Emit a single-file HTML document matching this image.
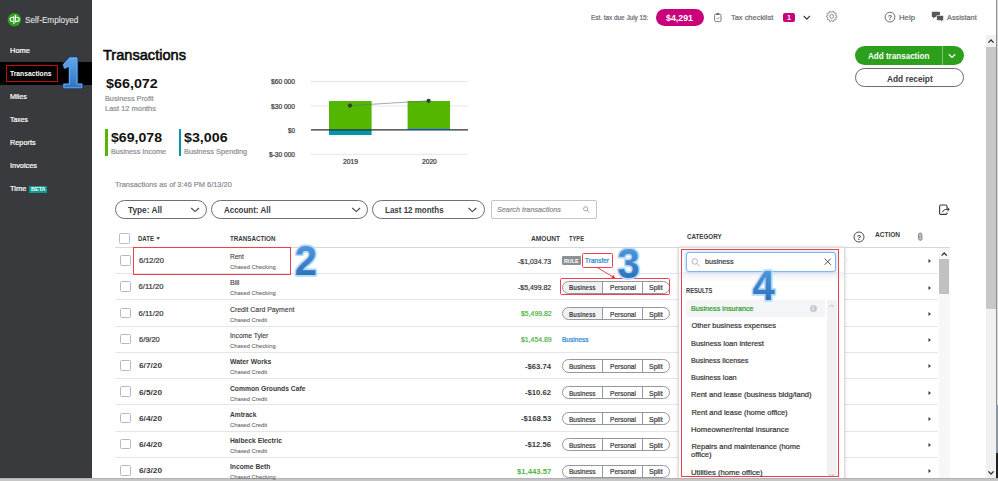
<!DOCTYPE html>
<html><head><meta charset="utf-8"><title>Transactions</title>
<style>
html,body{margin:0;padding:0;}
body{width:998px;height:481px;overflow:hidden;position:relative;background:#fff;font-family:"Liberation Sans",sans-serif;}
.t{position:absolute;white-space:nowrap;line-height:1;transform-origin:0 50%;}
.a{position:absolute;box-sizing:border-box;}
</style></head><body>
<div class="a" style="left:0px;top:0px;width:92px;height:481px;background:#393a3d;"></div>
<div class="a" style="left:0px;top:61.7px;width:92px;height:23px;background:#000;"></div>
<div class="a" style="left:105.2px;top:129.2px;width:2.4px;height:26.8px;background:#53b700;"></div>
<div class="a" style="left:178.6px;top:129.2px;width:2.4px;height:26.8px;background:#0097a9;"></div>
<div class="a" style="left:29.2px;top:186px;width:18.2px;height:6.6px;background:#0d9a8f;"></div>
<div class="a" style="left:655.6px;top:8.5px;width:48.5px;height:17px;background:#c9007a;border-radius:9px;"></div>
<div class="a" style="left:782.6px;top:13px;width:12.4px;height:8.8px;background:#c9007a;border-radius:2px;"></div>
<div class="a" style="left:855.2px;top:46.2px;width:109px;height:19px;background:#2ca01c;border-radius:9.5px;"></div>
<div class="a" style="left:942.2px;top:46.2px;width:0.8px;height:19px;background:#7cc872;"></div>
<div class="a" style="left:855.2px;top:67.9px;width:109px;height:19px;background:#fff;border:1px solid #6b6c72;border-radius:9.5px;"></div>
<div class="a" style="left:115px;top:199.6px;width:92.2px;height:19.2px;border:1.2px solid #6e7076;border-radius:9.5px;"></div>
<div class="a" style="left:210.8px;top:199.6px;width:157.4px;height:19.2px;border:1.2px solid #6e7076;border-radius:9.5px;"></div>
<div class="a" style="left:371.6px;top:199.6px;width:113px;height:19.2px;border:1.2px solid #6e7076;border-radius:9.5px;"></div>
<div class="a" style="left:491.4px;top:199.6px;width:106px;height:19px;border:1px solid #c2c5ca;border-radius:2px;"></div>
<div class="a" style="left:119.2px;top:233.2px;width:10.8px;height:10.8px;border:1px solid #babec5;border-radius:1.5px;"></div>
<div class="a" style="left:115px;top:246.6px;width:835px;height:1px;background:#d4d7dc;"></div>
<div class="a" style="left:120.2px;top:255.1px;width:10.6px;height:10.6px;border:1px solid #b4b8bf;border-radius:1.5px;"></div>
<div class="a" style="left:561.8px;top:256.4px;width:18.8px;height:8.8px;background:#8d9096;border-radius:1.2px;"></div>
<svg class="a" style="left:927.6px;top:258.2px" width="4" height="6" viewBox="0 0 4 6"><path d="M0.5 0.9 L3 3 L0.5 5.1z" fill="#393a3d"/></svg>
<div class="a" style="left:115px;top:273.0px;width:823px;height:1px;background:#e3e5e8;"></div>
<div class="a" style="left:120.2px;top:281.4px;width:10.6px;height:10.6px;border:1px solid #b4b8bf;border-radius:1.5px;"></div>
<div class="a" style="left:562px;top:280.7px;width:107.8px;height:13.2px;border:1px solid #94979d;border-radius:6.6px;background:linear-gradient(90deg,#f0f1f4 0,#f0f1f4 40px,#fff 40px);"></div>
<div class="a" style="left:602px;top:280.7px;width:0.9px;height:13.2px;background:#94979d;"></div>
<div class="a" style="left:642.2px;top:280.7px;width:0.9px;height:13.2px;background:#94979d;"></div>
<svg class="a" style="left:927.6px;top:284.5px" width="4" height="6" viewBox="0 0 4 6"><path d="M0.5 0.9 L3 3 L0.5 5.1z" fill="#393a3d"/></svg>
<div class="a" style="left:115px;top:299.2px;width:823px;height:1px;background:#e3e5e8;"></div>
<div class="a" style="left:120.2px;top:307.6px;width:10.6px;height:10.6px;border:1px solid #b4b8bf;border-radius:1.5px;"></div>
<div class="a" style="left:562px;top:306.9px;width:107.8px;height:13.2px;border:1px solid #94979d;border-radius:6.6px;background:linear-gradient(90deg,#f0f1f4 0,#f0f1f4 40px,#fff 40px);"></div>
<div class="a" style="left:602px;top:306.9px;width:0.9px;height:13.2px;background:#94979d;"></div>
<div class="a" style="left:642.2px;top:306.9px;width:0.9px;height:13.2px;background:#94979d;"></div>
<svg class="a" style="left:927.6px;top:310.7px" width="4" height="6" viewBox="0 0 4 6"><path d="M0.5 0.9 L3 3 L0.5 5.1z" fill="#393a3d"/></svg>
<div class="a" style="left:115px;top:325.5px;width:823px;height:1px;background:#e3e5e8;"></div>
<div class="a" style="left:120.2px;top:333.9px;width:10.6px;height:10.6px;border:1px solid #b4b8bf;border-radius:1.5px;"></div>
<svg class="a" style="left:927.6px;top:337.0px" width="4" height="6" viewBox="0 0 4 6"><path d="M0.5 0.9 L3 3 L0.5 5.1z" fill="#393a3d"/></svg>
<div class="a" style="left:115px;top:351.7px;width:823px;height:1px;background:#e3e5e8;"></div>
<div class="a" style="left:120.2px;top:360.1px;width:10.6px;height:10.6px;border:1px solid #b4b8bf;border-radius:1.5px;"></div>
<div class="a" style="left:562px;top:359.4px;width:107.8px;height:13.2px;border:1px solid #94979d;border-radius:6.6px;background:#fff;"></div>
<div class="a" style="left:602px;top:359.4px;width:0.9px;height:13.2px;background:#94979d;"></div>
<div class="a" style="left:642.2px;top:359.4px;width:0.9px;height:13.2px;background:#94979d;"></div>
<svg class="a" style="left:927.6px;top:363.2px" width="4" height="6" viewBox="0 0 4 6"><path d="M0.5 0.9 L3 3 L0.5 5.1z" fill="#393a3d"/></svg>
<div class="a" style="left:115px;top:378.0px;width:823px;height:1px;background:#e3e5e8;"></div>
<div class="a" style="left:120.2px;top:386.4px;width:10.6px;height:10.6px;border:1px solid #b4b8bf;border-radius:1.5px;"></div>
<div class="a" style="left:562px;top:385.7px;width:107.8px;height:13.2px;border:1px solid #94979d;border-radius:6.6px;background:#fff;"></div>
<div class="a" style="left:602px;top:385.7px;width:0.9px;height:13.2px;background:#94979d;"></div>
<div class="a" style="left:642.2px;top:385.7px;width:0.9px;height:13.2px;background:#94979d;"></div>
<svg class="a" style="left:927.6px;top:389.5px" width="4" height="6" viewBox="0 0 4 6"><path d="M0.5 0.9 L3 3 L0.5 5.1z" fill="#393a3d"/></svg>
<div class="a" style="left:115px;top:404.3px;width:823px;height:1px;background:#e3e5e8;"></div>
<div class="a" style="left:120.2px;top:412.7px;width:10.6px;height:10.6px;border:1px solid #b4b8bf;border-radius:1.5px;"></div>
<div class="a" style="left:562px;top:412.0px;width:107.8px;height:13.2px;border:1px solid #94979d;border-radius:6.6px;background:#fff;"></div>
<div class="a" style="left:602px;top:412.0px;width:0.9px;height:13.2px;background:#94979d;"></div>
<div class="a" style="left:642.2px;top:412.0px;width:0.9px;height:13.2px;background:#94979d;"></div>
<svg class="a" style="left:927.6px;top:415.8px" width="4" height="6" viewBox="0 0 4 6"><path d="M0.5 0.9 L3 3 L0.5 5.1z" fill="#393a3d"/></svg>
<div class="a" style="left:115px;top:430.5px;width:823px;height:1px;background:#e3e5e8;"></div>
<div class="a" style="left:120.2px;top:438.9px;width:10.6px;height:10.6px;border:1px solid #b4b8bf;border-radius:1.5px;"></div>
<div class="a" style="left:562px;top:438.2px;width:107.8px;height:13.2px;border:1px solid #94979d;border-radius:6.6px;background:#fff;"></div>
<div class="a" style="left:602px;top:438.2px;width:0.9px;height:13.2px;background:#94979d;"></div>
<div class="a" style="left:642.2px;top:438.2px;width:0.9px;height:13.2px;background:#94979d;"></div>
<svg class="a" style="left:927.6px;top:442.0px" width="4" height="6" viewBox="0 0 4 6"><path d="M0.5 0.9 L3 3 L0.5 5.1z" fill="#393a3d"/></svg>
<div class="a" style="left:115px;top:456.8px;width:823px;height:1px;background:#e3e5e8;"></div>
<div class="a" style="left:120.2px;top:465.2px;width:10.6px;height:10.6px;border:1px solid #b4b8bf;border-radius:1.5px;"></div>
<div class="a" style="left:562px;top:464.5px;width:107.8px;height:13.2px;border:1px solid #94979d;border-radius:6.6px;background:#fff;"></div>
<div class="a" style="left:602px;top:464.5px;width:0.9px;height:13.2px;background:#94979d;"></div>
<div class="a" style="left:642.2px;top:464.5px;width:0.9px;height:13.2px;background:#94979d;"></div>
<svg class="a" style="left:927.6px;top:468.3px" width="4" height="6" viewBox="0 0 4 6"><path d="M0.5 0.9 L3 3 L0.5 5.1z" fill="#393a3d"/></svg>
<div class="a" style="left:678px;top:247.4px;width:167.4px;height:240px;background:#fff;box-shadow:0 0 3px rgba(0,0,0,0.18);border:1px solid #d9dbdf;"></div>
<div class="a" style="left:679px;top:272px;width:165.4px;height:10px;background:linear-gradient(180deg,#eef0f4,#fff);"></div>
<div class="a" style="left:686px;top:299.6px;width:139px;height:17.4px;background:#f4f5f8;"></div>
<div class="a" style="left:826.6px;top:299.6px;width:10px;height:177.4px;background:#f1f1f1;"></div>
<div class="a" style="left:686.2px;top:251.9px;width:150px;height:19.8px;border:1.1px solid #82b7ec;border-radius:3px;box-shadow:0 0 3px 1px rgba(130,183,236,0.45);background:#fff;"></div>
<div class="a" style="left:809.6px;top:305.2px;width:7px;height:7px;background:#c7c9ce;border-radius:50%;"></div>
<div class="a" style="left:5.8px;top:65px;width:52.2px;height:16.7px;border:1px solid #c60a14;"></div>
<div class="a" style="left:132.6px;top:247.2px;width:158.4px;height:27.4px;border:1px solid #ee4046;"></div>
<div class="a" style="left:582px;top:253.4px;width:30.8px;height:14.4px;border:1.2px solid #ee4046;border-radius:1.5px;"></div>
<div class="a" style="left:560px;top:278.4px;width:109.8px;height:16.4px;border:1.2px solid #ee4046;border-radius:1.5px;"></div>
<div class="a" style="left:681.4px;top:249.4px;width:157.4px;height:227.8px;border:1px solid #ee4046;"></div>
<div class="a" style="left:938.6px;top:247.6px;width:11px;height:231px;background:#f7f7f7;"></div>
<div class="a" style="left:939px;top:259.4px;width:10.4px;height:35px;background:#c1c1c1;"></div>
<div class="a" style="left:986px;top:35px;width:10px;height:446px;background:#f1f1f1;"></div>
<div class="a" style="left:986px;top:47.4px;width:10px;height:262px;background:#c8c8c8;"></div>
<div class="a" style="left:995.8px;top:0px;width:1.4px;height:481px;background:#8e8e8e;"></div>
<div class="a" style="left:997.2px;top:0px;width:1px;height:481px;background:#dcdcdc;"></div>
<div class="a" style="left:996px;top:405px;width:2px;height:50px;background:#8a96a3;"></div>
<div class="a" style="left:996px;top:453px;width:2px;height:28px;background:#222;"></div>
<div class="a" style="left:0px;top:478px;width:998px;height:1px;background:#b4b4b4;"></div>
<div class="a" style="left:0px;top:479px;width:998px;height:2px;background:#c6c6c6;"></div><svg class="a" style="left:0;top:0" width="998" height="481" viewBox="0 0 998 481">
<defs>
<linearGradient id="ng" x1="0" y1="0" x2="0" y2="1"><stop offset="0" stop-color="#5b9fe3"/><stop offset="1" stop-color="#2468b4"/></linearGradient>
<linearGradient id="ng1" x1="0" y1="0" x2="0" y2="1"><stop offset="0" stop-color="#62a6ea"/><stop offset="1" stop-color="#2e72c2"/></linearGradient>
</defs>
<!-- logo -->
<circle cx="14.4" cy="19.8" r="6.8" fill="#2ca01c"/>
<g fill="none" stroke="#fff" stroke-width="1.15" stroke-linecap="round">
<path d="M13.9 17.2h-1.6a2.1 2.1 0 0 0 0 4.2h.4"/><path d="M13.9 16.8v6.6"/>
<path d="M15.5 21.4h1.6a2.1 2.1 0 0 0 0-4.2h-.4"/><path d="M15.5 15.2v6.6"/>
</g>
<!-- chart -->
<g stroke="#b4b7bd" stroke-width="0.8" stroke-dasharray="0.7 0.9">
<path d="M311 81.5H468"/><path d="M311 106H468"/><path d="M311 154.3H468"/>
</g>
<rect x="329" y="101" width="42.6" height="28.6" fill="#53b700"/>
<rect x="329" y="129.6" width="42.6" height="5.4" fill="#0097a9"/>
<rect x="407.6" y="101" width="42.4" height="27.4" fill="#53b700"/>
<rect x="407.6" y="128.2" width="42.4" height="1.4" fill="#0097a9"/>
<path d="M311 129.9H468" stroke="#2b2c2f" stroke-width="1.2"/>
<path d="M350 105.6L428.6 100.8" stroke="#6b6c72" stroke-width="0.6"/>
<circle cx="350" cy="105.6" r="2.1" fill="#393a3d"/><circle cx="428.6" cy="100.8" r="2.1" fill="#393a3d"/>
<!-- clipboard -->
<rect x="714.6" y="14.2" width="6.4" height="7.4" rx="1.2" fill="none" stroke="#6b6c72" stroke-width="0.9"/>
<rect x="716.4" y="13" width="2.8" height="2" rx="0.5" fill="#6b6c72"/>
<path d="M716.6 18.2l1 1 1.6-2" fill="none" stroke="#6b6c72" stroke-width="0.7"/>
<!-- chevron -->
<path d="M803.8 16l3 3.2 3-3.2" fill="none" stroke="#393a3d" stroke-width="1.1"/>
<!-- gear -->
<path d="M837.05 16.40 L837.04 16.74 L836.72 17.03 L835.96 17.21 L835.62 17.41 L835.55 17.65 L835.47 17.89 L835.63 18.25 L836.14 18.84 L836.22 19.27 L836.03 19.54 L835.82 19.81 L835.39 19.86 L834.67 19.56 L834.28 19.52 L834.08 19.68 L833.87 19.82 L833.79 20.20 L833.86 20.98 L833.67 21.37 L833.35 21.49 L833.03 21.58 L832.65 21.37 L832.24 20.70 L831.95 20.44 L831.70 20.45 L831.45 20.44 L831.16 20.70 L830.75 21.37 L830.37 21.58 L830.05 21.49 L829.73 21.37 L829.54 20.98 L829.61 20.20 L829.53 19.82 L829.32 19.68 L829.12 19.52 L828.73 19.56 L828.01 19.86 L827.58 19.81 L827.37 19.54 L827.18 19.27 L827.26 18.84 L827.77 18.25 L827.93 17.89 L827.85 17.65 L827.78 17.41 L827.44 17.21 L826.68 17.03 L826.36 16.74 L826.35 16.40 L826.36 16.06 L826.68 15.77 L827.44 15.59 L827.78 15.39 L827.85 15.15 L827.93 14.91 L827.77 14.55 L827.26 13.96 L827.18 13.53 L827.37 13.26 L827.58 12.99 L828.01 12.94 L828.73 13.24 L829.12 13.28 L829.32 13.12 L829.53 12.98 L829.61 12.60 L829.54 11.82 L829.73 11.43 L830.05 11.31 L830.37 11.22 L830.75 11.43 L831.16 12.10 L831.45 12.36 L831.70 12.35 L831.95 12.36 L832.24 12.10 L832.65 11.43 L833.03 11.22 L833.35 11.31 L833.67 11.43 L833.86 11.82 L833.79 12.60 L833.87 12.98 L834.08 13.12 L834.28 13.28 L834.67 13.24 L835.39 12.94 L835.82 12.99 L836.03 13.26 L836.22 13.53 L836.14 13.96 L835.63 14.55 L835.47 14.91 L835.55 15.15 L835.62 15.39 L835.96 15.59 L836.72 15.77 L837.04 16.06Z" fill="none" stroke="#6b6c72" stroke-width="0.8" stroke-linejoin="round"/>
<circle cx="831.7" cy="16.4" r="1.9" fill="none" stroke="#6b6c72" stroke-width="0.8"/>
<!-- help -->
<circle cx="890" cy="17.1" r="4.9" fill="none" stroke="#5a5c62" stroke-width="0.9"/>
<text x="890" y="19.8" font-size="7.2" font-weight="700" font-family="Liberation Sans" text-anchor="middle" fill="#5a5c62">?</text>
<!-- assistant -->
<path d="M932.6 11.8h6.6a.8.8 0 0 1 .8.8v3.6a.8.8 0 0 1-.8.8h-4.2l-1.8 1.8v-1.8h-.6a.8.8 0 0 1-.8-.8v-3.6a.8.8 0 0 1 .8-.8z" fill="#55575d"/>
<path d="M937.4 15.4h5.4a.8.8 0 0 1 .8.8v3.6a.8.8 0 0 1-.8.8h-.6v1.5l-1.7-1.5h-3.1a.8.8 0 0 1-.8-.8v-3.6a.8.8 0 0 1 .8-.8z" fill="#55575d" stroke="#fff" stroke-width="0.7"/>
<!-- add transaction chevron -->
<path d="M948.8 54.3l3.2 3.1 3.2-3.1" fill="none" stroke="#fff" stroke-width="1.3"/>
<!-- filter chevrons -->
<g fill="none" stroke="#45464b" stroke-width="1.1">
<path d="M191.2 208l3.9 3.6 3.9-3.6"/><path d="M352.3 208l3.9 3.6 3.9-3.6"/><path d="M468.5 208l3.9 3.6 3.9-3.6"/>
</g>
<!-- search magnifier -->
<circle cx="585.6" cy="208.8" r="2.1" fill="none" stroke="#8d9096" stroke-width="0.8"/><path d="M587.2 210.4l2.3 2.3" stroke="#8d9096" stroke-width="0.9"/>
<!-- export icon -->
<g transform="translate(0,0.8)">
<path d="M947 208.4v-3a1.2 1.2 0 0 0-1.2-1.2h-5a1.2 1.2 0 0 0-1.2 1.2v7a1.2 1.2 0 0 0 1.2 1.2h5a1.2 1.2 0 0 0 1.2-1.2v-.8" fill="none" stroke="#393a3d" stroke-width="1.1"/>
<path d="M942.6 211.4c.4-1.8 1.8-2.8 4.4-2.8h2.2m-1.8-1.8l1.9 1.8-1.9 1.8" fill="none" stroke="#393a3d" stroke-width="1"/>
</g>
<!-- DATE arrow -->
<path d="M156.3 237.2h3.8l-1.9 2.6z" fill="#393a3d"/>
<!-- header help -->
<circle cx="859" cy="237" r="5" fill="none" stroke="#393a3d" stroke-width="0.9"/>
<text x="859" y="239.7" font-size="7.2" font-weight="700" font-family="Liberation Sans" text-anchor="middle" fill="#393a3d">?</text>
<!-- paperclip -->
<path d="M918.4 238.4v-3.6a1.8 1.8 0 0 1 3.6 0v4a1.6 1.6 0 0 1-3.2 0v-3.4" fill="#b9bcc2" stroke="#7a7d84" stroke-width="0.8"/>
<!-- dropdown icons -->
<circle cx="694.8" cy="261.4" r="2.8" fill="none" stroke="#a0a3a9" stroke-width="0.8"/><path d="M696.9 263.5l2.8 2.8" stroke="#a0a3a9" stroke-width="0.9"/>
<path d="M824.6 258.6l6.2 6.2m0-6.2l-6.2 6.2" stroke="#393a3d" stroke-width="0.9"/>
<path d="M845.6 257.5l2 3.5-2 3.5z" fill="#fff" stroke="#e3e5e8" stroke-width="0.5"/>
<path d="M829.4 307l2.2-2.2 2.2 2.2" fill="none" stroke="#a0a3a9" stroke-width="0.7"/>
<path d="M829.3 474l2.3 2.3 2.3-2.3" fill="none" stroke="#a0a3a9" stroke-width="0.7"/>
<path d="M813.1 307.3v3M813.1 306v.7" stroke="#fff" stroke-width="0.8"/>
<!-- scrollbar chevrons -->
<g fill="none" stroke="#333" stroke-width="1.3">
<path d="M941.6 255.6l2.6-2.6 2.6 2.6"/>
<path d="M988.4 42.6l2.6-2.6 2.6 2.6"/>
<path d="M988.4 471.4l2.6 2.6 2.6-2.6"/>
</g>
<!-- red arrow -->
<path d="M597 267.4L614.2 277.6" stroke="#e8363c" stroke-width="0.9"/>
<path d="M615.4 278.4l-4.2-.6 2-3z" fill="#e8363c"/>
<!-- numbers -->
<path d="M69.6 57.8h7.4v26.4h4.8v3.6h-18v-3.6h5.8v-18.4l-5 2.2-1-3.4z" fill="none" stroke="#17396a" stroke-width="2.6" stroke-linejoin="round"/>
<path d="M69.6 57.8h7.4v26.4h4.8v3.6h-18v-3.6h5.8v-18.4l-5 2.2-1-3.4z" fill="url(#ng1)" stroke="#74b4f0" stroke-width="0.9" stroke-linejoin="round"/>
<g font-family="Liberation Sans" font-weight="700" font-size="42" fill="url(#ng)" stroke="#b2dbf9" stroke-width="3.4" paint-order="stroke" stroke-linejoin="round" text-anchor="middle">
<text transform="translate(305.9,275) scale(0.95,1)">2</text>
<text transform="translate(628.6,277.5) scale(0.95,1.02)">3</text>
<text transform="translate(763.5,299.6) scale(0.95,1.01)">4</text>
</g>
</svg>

<span class="t" style="left:24.8px;top:15.91px;font-size:8.9px;color:#ededed;-webkit-text-stroke:0.05px #ededed;transform:scaleX(0.9252);">Self-Employed</span>
<span class="t" style="left:10.0px;top:47.11px;font-size:7.9px;color:#fff;-webkit-text-stroke:0.22px #fff;transform:scaleX(0.9496);">Home</span>
<span class="t" style="left:10.0px;top:70.11px;font-size:7.9px;color:#fff;font-weight:700;transform:scaleX(0.8524);">Transactions</span>
<span class="t" style="left:10.0px;top:93.11px;font-size:7.9px;color:#fff;-webkit-text-stroke:0.22px #fff;transform:scaleX(0.9120);">Miles</span>
<span class="t" style="left:10.0px;top:116.11px;font-size:7.9px;color:#fff;-webkit-text-stroke:0.22px #fff;transform:scaleX(0.8727);">Taxes</span>
<span class="t" style="left:10.0px;top:139.11px;font-size:7.9px;color:#fff;-webkit-text-stroke:0.22px #fff;transform:scaleX(0.9262);">Reports</span>
<span class="t" style="left:10.0px;top:162.11px;font-size:7.9px;color:#fff;-webkit-text-stroke:0.22px #fff;transform:scaleX(0.9325);">Invoices</span>
<span class="t" style="left:10.0px;top:185.11px;font-size:7.9px;color:#fff;-webkit-text-stroke:0.22px #fff;transform:scaleX(0.9507);">Time</span>
<span class="t" style="left:31.0px;top:187.31px;font-size:5px;color:#fff;font-weight:700;transform:scaleX(1.1019);">BETA</span>
<span class="t" style="left:102.8px;top:47.11px;font-size:15.2px;color:#0c0c0c;-webkit-text-stroke:0.6px #0c0c0c;transform:scaleX(0.9608);">Transactions</span>
<span class="t" style="left:105.6px;top:76.61px;font-size:13.3px;color:#111;font-weight:700;transform:scaleX(1.0774);">$66,072</span>
<span class="t" style="left:105.0px;top:94.81px;font-size:7.6px;color:#8d9096;-webkit-text-stroke:0.22px #8d9096;transform:scaleX(0.9594);">Business Profit</span>
<span class="t" style="left:105.0px;top:105.40px;font-size:7.6px;color:#8d9096;-webkit-text-stroke:0.22px #8d9096;transform:scaleX(0.9822);">Last 12 months</span>
<span class="t" style="left:111.0px;top:131.31px;font-size:13.3px;color:#111;font-weight:700;transform:scaleX(1.0608);">$69,078</span>
<span class="t" style="left:110.6px;top:148.00px;font-size:7.6px;color:#8d9096;-webkit-text-stroke:0.22px #8d9096;transform:scaleX(0.9511);">Business Income</span>
<span class="t" style="left:184.0px;top:131.31px;font-size:13.3px;color:#111;font-weight:700;transform:scaleX(1.0720);">$3,006</span>
<span class="t" style="left:184.0px;top:148.00px;font-size:7.6px;color:#8d9096;-webkit-text-stroke:0.22px #8d9096;transform:scaleX(0.9721);">Business Spending</span>
<span class="t" style="left:115.0px;top:181.00px;font-size:7.6px;color:#8d9096;-webkit-text-stroke:0.22px #8d9096;transform:scaleX(0.9765);">Transactions as of 3:46 PM 6/13/20</span>
<span class="t" style="left:271.0px;top:79.01px;font-size:6.6px;color:#393a3d;-webkit-text-stroke:0.22px #393a3d;transform:scaleX(1.0066);">$60 000</span>
<span class="t" style="left:271.0px;top:103.70px;font-size:6.6px;color:#393a3d;-webkit-text-stroke:0.22px #393a3d;transform:scaleX(1.0066);">$30 000</span>
<span class="t" style="left:288.0px;top:127.92px;font-size:6.6px;color:#393a3d;-webkit-text-stroke:0.22px #393a3d;transform:scaleX(0.9532);">$0</span>
<span class="t" style="left:269.0px;top:152.20px;font-size:6.6px;color:#393a3d;-webkit-text-stroke:0.22px #393a3d;">$-30 000</span>
<span class="t" style="left:343.0px;top:159.42px;font-size:6.6px;color:#393a3d;-webkit-text-stroke:0.22px #393a3d;transform:scaleX(1.0224);">2019</span>
<span class="t" style="left:421.6px;top:159.42px;font-size:6.6px;color:#393a3d;-webkit-text-stroke:0.22px #393a3d;transform:scaleX(1.0087);">2020</span>
<span class="t" style="left:590.6px;top:15.01px;font-size:6.6px;color:#6b6c72;-webkit-text-stroke:0.22px #6b6c72;transform:scaleX(0.9665);">Est. tax due July 15:</span>
<span class="t" style="left:666.0px;top:13.62px;font-size:9.2px;color:#fff;font-weight:700;transform:scaleX(0.9605);">$4,291</span>
<span class="t" style="left:731.4px;top:14.00px;font-size:7.6px;color:#6b6c72;-webkit-text-stroke:0.22px #6b6c72;transform:scaleX(0.9803);">Tax checklist</span>
<span class="t" style="left:786.5px;top:14.21px;font-size:7px;color:#fff;font-weight:700;transform:scaleX(1.0240);">1</span>
<span class="t" style="left:899.0px;top:14.00px;font-size:7.6px;color:#6b6c72;-webkit-text-stroke:0.22px #6b6c72;transform:scaleX(1.0240);">Help</span>
<span class="t" style="left:946.8px;top:14.00px;font-size:7.6px;color:#6b6c72;-webkit-text-stroke:0.22px #6b6c72;transform:scaleX(0.9639);">Assistant</span>
<span class="t" style="left:867.8px;top:52.00px;font-size:8.6px;color:#fff;font-weight:700;transform:scaleX(0.9385);">Add transaction</span>
<span class="t" style="left:887.0px;top:74.50px;font-size:8.6px;color:#393a3d;font-weight:700;transform:scaleX(0.9666);">Add receipt</span>
<span class="t" style="left:128.0px;top:205.81px;font-size:9px;color:#393a3d;font-weight:700;transform:scaleX(0.9185);">Type: All</span>
<span class="t" style="left:224.0px;top:205.81px;font-size:9px;color:#393a3d;font-weight:700;transform:scaleX(0.8847);">Account: All</span>
<span class="t" style="left:385.4px;top:205.81px;font-size:9px;color:#393a3d;font-weight:700;transform:scaleX(0.8877);">Last 12 months</span>
<span class="t" style="left:497.0px;top:206.00px;font-size:7.6px;color:#8d9096;font-style:italic;-webkit-text-stroke:0.22px #8d9096;transform:scaleX(0.9534);">Search transactions</span>
<span class="t" style="left:137.6px;top:236.20px;font-size:6.6px;color:#393a3d;font-weight:700;transform:scaleX(0.9159);">DATE</span>
<span class="t" style="left:230.0px;top:236.20px;font-size:6.6px;color:#393a3d;font-weight:700;transform:scaleX(0.9458);">TRANSACTION</span>
<span class="t" style="left:531.0px;top:236.20px;font-size:6.6px;color:#393a3d;font-weight:700;">AMOUNT</span>
<span class="t" style="left:569.0px;top:236.20px;font-size:6.6px;color:#393a3d;font-weight:700;transform:scaleX(0.8704);">TYPE</span>
<span class="t" style="left:687.0px;top:233.61px;font-size:6.6px;color:#393a3d;font-weight:700;transform:scaleX(0.9443);">CATEGORY</span>
<span class="t" style="left:875.0px;top:232.42px;font-size:6.6px;color:#393a3d;font-weight:700;transform:scaleX(0.9889);">ACTION</span>
<span class="t" style="left:138.6px;top:257.20px;font-size:7.6px;color:#393a3d;-webkit-text-stroke:0.22px #393a3d;transform:scaleX(0.9785);">6/12/20</span>
<span class="t" style="left:230.1px;top:253.20px;font-size:7.4px;color:#393a3d;-webkit-text-stroke:0.12px #393a3d;transform:scaleX(0.8832);">Rent</span>
<span class="t" style="left:230.1px;top:264.21px;font-size:6.0px;color:#6b6c72;-webkit-text-stroke:0.1px #6b6c72;transform:scaleX(0.9646);">Chased Checking</span>
<span class="t" style="left:518.0px;top:257.61px;font-size:7.6px;color:#393a3d;-webkit-text-stroke:0.22px #393a3d;transform:scaleX(0.9143);">-$1,034.73</span>
<span class="t" style="left:563.6px;top:258.81px;font-size:5.6px;color:#fff;font-weight:700;transform:scaleX(0.9584);">RULE</span>
<span class="t" style="left:585.0px;top:257.20px;font-size:7.4px;color:#1e84d0;-webkit-text-stroke:0.22px #1e84d0;transform:scaleX(0.8807);">Transfer</span>
<span class="t" style="left:138.6px;top:283.47px;font-size:7.6px;color:#393a3d;-webkit-text-stroke:0.22px #393a3d;">6/11/20</span>
<span class="t" style="left:230.1px;top:279.47px;font-size:7.4px;color:#393a3d;-webkit-text-stroke:0.12px #393a3d;transform:scaleX(0.9534);">Bill</span>
<span class="t" style="left:230.1px;top:290.47px;font-size:6.0px;color:#6b6c72;-webkit-text-stroke:0.1px #6b6c72;transform:scaleX(0.9646);">Chased Checking</span>
<span class="t" style="left:518.0px;top:283.86px;font-size:7.6px;color:#393a3d;-webkit-text-stroke:0.22px #393a3d;transform:scaleX(0.9143);">-$5,499.82</span>
<span class="t" style="left:569.0px;top:284.47px;font-size:7.4px;color:#393a3d;font-weight:700;transform:scaleX(0.8091);">Business</span>
<span class="t" style="left:609.6px;top:284.47px;font-size:7.4px;color:#393a3d;-webkit-text-stroke:0.22px #393a3d;transform:scaleX(0.8913);">Personal</span>
<span class="t" style="left:649.0px;top:284.47px;font-size:7.4px;color:#393a3d;-webkit-text-stroke:0.22px #393a3d;transform:scaleX(0.9451);">Split</span>
<span class="t" style="left:138.6px;top:309.73px;font-size:7.6px;color:#393a3d;-webkit-text-stroke:0.22px #393a3d;">6/11/20</span>
<span class="t" style="left:230.1px;top:305.72px;font-size:7.4px;color:#393a3d;-webkit-text-stroke:0.12px #393a3d;transform:scaleX(0.9331);">Credit Card Payment</span>
<span class="t" style="left:230.1px;top:316.74px;font-size:6.0px;color:#6b6c72;-webkit-text-stroke:0.1px #6b6c72;transform:scaleX(0.9672);">Chased Credit</span>
<span class="t" style="left:520.6px;top:310.12px;font-size:7.6px;color:#4fb443;-webkit-text-stroke:0.22px #4fb443;transform:scaleX(0.9054);">$5,499.82</span>
<span class="t" style="left:569.0px;top:310.72px;font-size:7.4px;color:#393a3d;font-weight:700;transform:scaleX(0.8091);">Business</span>
<span class="t" style="left:609.6px;top:310.72px;font-size:7.4px;color:#393a3d;-webkit-text-stroke:0.22px #393a3d;transform:scaleX(0.8913);">Personal</span>
<span class="t" style="left:649.0px;top:310.72px;font-size:7.4px;color:#393a3d;-webkit-text-stroke:0.22px #393a3d;transform:scaleX(0.9451);">Split</span>
<span class="t" style="left:138.6px;top:335.98px;font-size:7.6px;color:#393a3d;-webkit-text-stroke:0.22px #393a3d;transform:scaleX(0.9799);">6/9/20</span>
<span class="t" style="left:230.1px;top:331.98px;font-size:7.4px;color:#393a3d;-webkit-text-stroke:0.12px #393a3d;transform:scaleX(0.9058);">Income Tyler</span>
<span class="t" style="left:230.1px;top:342.99px;font-size:6.0px;color:#6b6c72;-webkit-text-stroke:0.1px #6b6c72;transform:scaleX(0.9646);">Chased Checking</span>
<span class="t" style="left:520.6px;top:336.39px;font-size:7.6px;color:#4fb443;-webkit-text-stroke:0.22px #4fb443;transform:scaleX(0.9054);">$1,454.89</span>
<span class="t" style="left:562.0px;top:335.98px;font-size:7.4px;color:#1e84d0;-webkit-text-stroke:0.22px #1e84d0;transform:scaleX(0.8867);">Business</span>
<span class="t" style="left:138.6px;top:362.25px;font-size:7.6px;color:#393a3d;font-weight:700;transform:scaleX(1.0935);">6/7/20</span>
<span class="t" style="left:230.1px;top:358.25px;font-size:7.4px;color:#393a3d;font-weight:700;transform:scaleX(0.9248);">Water Works</span>
<span class="t" style="left:230.1px;top:369.24px;font-size:6.0px;color:#6b6c72;-webkit-text-stroke:0.1px #6b6c72;transform:scaleX(0.9672);">Chased Credit</span>
<span class="t" style="left:525.2px;top:362.64px;font-size:7.6px;color:#393a3d;font-weight:700;transform:scaleX(1.0091);">-$63.74</span>
<span class="t" style="left:569.0px;top:363.25px;font-size:7.4px;color:#393a3d;-webkit-text-stroke:0.22px #393a3d;transform:scaleX(0.8867);">Business</span>
<span class="t" style="left:609.6px;top:363.25px;font-size:7.4px;color:#393a3d;-webkit-text-stroke:0.22px #393a3d;transform:scaleX(0.8913);">Personal</span>
<span class="t" style="left:649.0px;top:363.25px;font-size:7.4px;color:#393a3d;-webkit-text-stroke:0.22px #393a3d;transform:scaleX(0.9451);">Split</span>
<span class="t" style="left:138.6px;top:388.50px;font-size:7.6px;color:#393a3d;font-weight:700;transform:scaleX(1.0935);">6/5/20</span>
<span class="t" style="left:230.1px;top:384.50px;font-size:7.4px;color:#393a3d;font-weight:700;transform:scaleX(0.9089);">Common Grounds Cafe</span>
<span class="t" style="left:230.1px;top:395.51px;font-size:6.0px;color:#6b6c72;-webkit-text-stroke:0.1px #6b6c72;transform:scaleX(0.9672);">Chased Credit</span>
<span class="t" style="left:525.2px;top:388.90px;font-size:7.6px;color:#393a3d;font-weight:700;transform:scaleX(1.0091);">-$10.62</span>
<span class="t" style="left:569.0px;top:389.50px;font-size:7.4px;color:#393a3d;-webkit-text-stroke:0.22px #393a3d;transform:scaleX(0.8867);">Business</span>
<span class="t" style="left:609.6px;top:389.50px;font-size:7.4px;color:#393a3d;-webkit-text-stroke:0.22px #393a3d;transform:scaleX(0.8913);">Personal</span>
<span class="t" style="left:649.0px;top:389.50px;font-size:7.4px;color:#393a3d;-webkit-text-stroke:0.22px #393a3d;transform:scaleX(0.9451);">Split</span>
<span class="t" style="left:138.6px;top:414.76px;font-size:7.6px;color:#393a3d;font-weight:700;transform:scaleX(1.0935);">6/4/20</span>
<span class="t" style="left:230.1px;top:410.76px;font-size:7.4px;color:#393a3d;font-weight:700;transform:scaleX(0.8926);">Amtrack</span>
<span class="t" style="left:230.1px;top:421.77px;font-size:6.0px;color:#6b6c72;-webkit-text-stroke:0.1px #6b6c72;transform:scaleX(0.9672);">Chased Credit</span>
<span class="t" style="left:520.8px;top:415.17px;font-size:7.6px;color:#393a3d;font-weight:700;transform:scaleX(1.0139);">-$168.53</span>
<span class="t" style="left:569.0px;top:415.76px;font-size:7.4px;color:#393a3d;-webkit-text-stroke:0.22px #393a3d;transform:scaleX(0.8867);">Business</span>
<span class="t" style="left:609.6px;top:415.76px;font-size:7.4px;color:#393a3d;-webkit-text-stroke:0.22px #393a3d;transform:scaleX(0.8913);">Personal</span>
<span class="t" style="left:649.0px;top:415.76px;font-size:7.4px;color:#393a3d;-webkit-text-stroke:0.22px #393a3d;transform:scaleX(0.9451);">Split</span>
<span class="t" style="left:138.6px;top:441.03px;font-size:7.6px;color:#393a3d;font-weight:700;transform:scaleX(1.0935);">6/4/20</span>
<span class="t" style="left:230.1px;top:437.03px;font-size:7.4px;color:#393a3d;font-weight:700;transform:scaleX(0.9123);">Halbeck Electric</span>
<span class="t" style="left:230.1px;top:448.02px;font-size:6.0px;color:#6b6c72;-webkit-text-stroke:0.1px #6b6c72;transform:scaleX(0.9672);">Chased Credit</span>
<span class="t" style="left:525.2px;top:441.42px;font-size:7.6px;color:#393a3d;font-weight:700;transform:scaleX(1.0091);">-$12.56</span>
<span class="t" style="left:569.0px;top:442.03px;font-size:7.4px;color:#393a3d;-webkit-text-stroke:0.22px #393a3d;transform:scaleX(0.8867);">Business</span>
<span class="t" style="left:609.6px;top:442.03px;font-size:7.4px;color:#393a3d;-webkit-text-stroke:0.22px #393a3d;transform:scaleX(0.8913);">Personal</span>
<span class="t" style="left:649.0px;top:442.03px;font-size:7.4px;color:#393a3d;-webkit-text-stroke:0.22px #393a3d;transform:scaleX(0.9451);">Split</span>
<span class="t" style="left:138.6px;top:467.28px;font-size:7.6px;color:#393a3d;font-weight:700;transform:scaleX(1.0935);">6/3/20</span>
<span class="t" style="left:230.1px;top:463.28px;font-size:7.4px;color:#393a3d;font-weight:700;transform:scaleX(0.9107);">Income Beth</span>
<span class="t" style="left:230.1px;top:474.29px;font-size:6.0px;color:#6b6c72;-webkit-text-stroke:0.1px #6b6c72;transform:scaleX(0.9646);">Chased Checking</span>
<span class="t" style="left:516.8px;top:467.68px;font-size:7.6px;color:#4fb443;font-weight:700;transform:scaleX(1.0178);">$1,443.57</span>
<span class="t" style="left:569.0px;top:468.28px;font-size:7.4px;color:#393a3d;-webkit-text-stroke:0.22px #393a3d;transform:scaleX(0.8867);">Business</span>
<span class="t" style="left:609.6px;top:468.28px;font-size:7.4px;color:#393a3d;-webkit-text-stroke:0.22px #393a3d;transform:scaleX(0.8913);">Personal</span>
<span class="t" style="left:649.0px;top:468.28px;font-size:7.4px;color:#393a3d;-webkit-text-stroke:0.22px #393a3d;transform:scaleX(0.9451);">Split</span>
<span class="t" style="left:705.4px;top:258.40px;font-size:7.6px;color:#393a3d;-webkit-text-stroke:0.22px #393a3d;transform:scaleX(0.9538);">business</span>
<span class="t" style="left:686.0px;top:287.61px;font-size:6.4px;color:#393a3d;font-weight:700;transform:scaleX(0.8992);">RESULTS</span>
<span class="t" style="left:691.4px;top:304.60px;font-size:7.5px;color:#2ca01c;-webkit-text-stroke:0.22px #2ca01c;transform:scaleX(0.9624);">Business insurance</span>
<span class="t" style="left:691.4px;top:321.81px;font-size:7.5px;color:#393a3d;-webkit-text-stroke:0.22px #393a3d;">Other business expenses</span>
<span class="t" style="left:691.4px;top:339.71px;font-size:7.5px;color:#393a3d;-webkit-text-stroke:0.22px #393a3d;transform:scaleX(0.9935);">Business loan interest</span>
<span class="t" style="left:691.4px;top:356.90px;font-size:7.5px;color:#393a3d;-webkit-text-stroke:0.22px #393a3d;transform:scaleX(0.9644);">Business licenses</span>
<span class="t" style="left:691.4px;top:373.60px;font-size:7.5px;color:#393a3d;-webkit-text-stroke:0.22px #393a3d;transform:scaleX(0.9764);">Business loan</span>
<span class="t" style="left:691.4px;top:390.60px;font-size:7.5px;color:#393a3d;-webkit-text-stroke:0.22px #393a3d;transform:scaleX(1.0078);">Rent and lease (business bldg/land)</span>
<span class="t" style="left:691.4px;top:408.51px;font-size:7.5px;color:#393a3d;-webkit-text-stroke:0.22px #393a3d;">Rent and lease (home office)</span>
<span class="t" style="left:691.4px;top:425.71px;font-size:7.5px;color:#393a3d;-webkit-text-stroke:0.22px #393a3d;transform:scaleX(1.0210);">Homeowner/rental insurance</span>
<span class="t" style="left:691.4px;top:442.81px;font-size:7.5px;color:#393a3d;-webkit-text-stroke:0.22px #393a3d;">Repairs and maintenance (home</span>
<span class="t" style="left:691.4px;top:451.21px;font-size:7.5px;color:#393a3d;-webkit-text-stroke:0.22px #393a3d;transform:scaleX(1.0149);">office)</span>
<span class="t" style="left:691.4px;top:468.60px;font-size:7.5px;color:#393a3d;-webkit-text-stroke:0.22px #393a3d;transform:scaleX(1.0245);">Utilities (home office)</span>
</body></html>
